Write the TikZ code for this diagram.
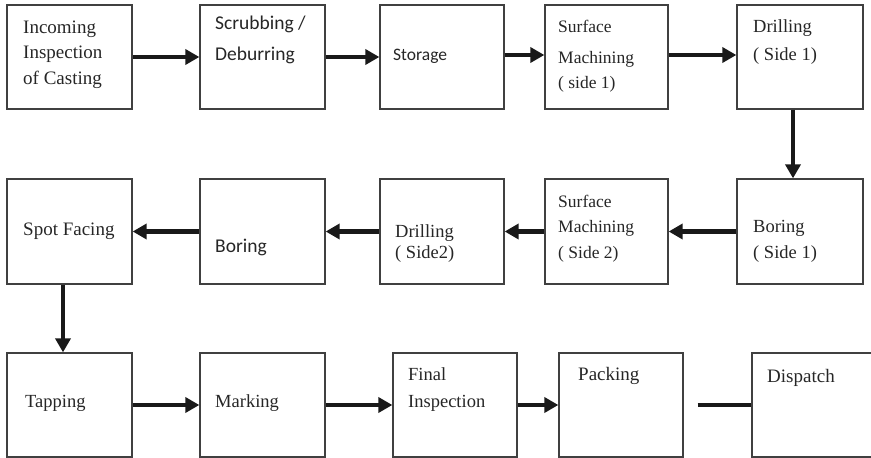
\documentclass[tikz,border=0pt]{standalone}
\usepackage{fontspec}
\setmainfont{Liberation Serif}
\newfontfamily\calibfont{Carlito}
\usetikzlibrary{arrows.meta}
\begin{document}
\begin{tikzpicture}[x=1pt,y=-1pt,
  box/.style={draw=black!75,line width=1.3pt,rectangle,inner sep=0pt,minimum height=104pt},
  txt/.style={anchor=base west,inner sep=0pt,text=black!85,font=\fontsize{18.5}{22}\selectfont},
  txs/.style={txt,font=\fontsize{17.5}{21}\selectfont},
  txc/.style={txt,font=\calibfont\fontsize{19.5}{23}\selectfont},
  flow/.style={line width=4.5pt,draw=black!90,-{Triangle[length=14pt,width=15pt]}},
  plain/.style={line width=4.5pt,draw=black!90}]
\useasboundingbox (0,0) rectangle (871,458);
% row 1
\node[box,minimum width=125pt] (b1) at (69.5,57) {};
\node[box,minimum width=125pt] (b2) at (262.5,57) {};
\node[box,minimum width=124pt] (b3) at (442,57) {};
\node[box,minimum width=123pt] (b4) at (606.5,57) {};
\node[box,minimum width=126pt] (b5) at (800,57) {};
% row 2
\node[box,minimum width=125pt,minimum height=105pt] (c1) at (69.5,231.5) {};
\node[box,minimum width=125pt,minimum height=105pt] (c2) at (262.5,231.5) {};
\node[box,minimum width=124pt,minimum height=105pt] (c3) at (442,231.5) {};
\node[box,minimum width=123pt,minimum height=105pt] (c4) at (606.5,231.5) {};
\node[box,minimum width=126pt,minimum height=105pt] (c5) at (800,231.5) {};
% row 3
\node[box,minimum width=125pt] (d1) at (69.5,405) {};
\node[box,minimum width=125pt] (d2) at (262.5,405) {};
\node[box,minimum width=124pt] (d3) at (455,405) {};
\node[box,minimum width=124pt] (d4) at (621,405) {};
\node[box,minimum width=125pt] (d5) at (814.5,405) {};
% texts row 1
\node[txt,font=\fontsize{19}{22}\selectfont] (t1a) at (23,33) {Incoming};
\node[txt,font=\fontsize{19}{22}\selectfont] (t1b) at (23,58) {Inspection};
\node[txt,font=\fontsize{19}{22}\selectfont] (t1c) at (23,84) {of Casting};
\node[txc] (t2a) at (215,29) {Scrubbing /};
\node[txc] (t2b) at (215,60) {Deburring};
\node[txc,font=\calibfont\fontsize{17.5}{21}\selectfont] (t3a) at (393,60) {Storage};
\node[txs] (t4a) at (558,32) {Surface};
\node[txs] (t4b) at (558,63) {Machining};
\node[txs] (t4c) at (558,88) {( side 1)};
\node[txt] (t5a) at (753,32) {Drilling};
\node[txt] (t5b) at (753,60) {( Side 1)};
% texts row 2
\node[txt,font=\fontsize{19}{22}\selectfont] (u1a) at (23,235) {Spot Facing};
\node[txc] (u2a) at (215,252) {Boring};
\node[txt] (u3a) at (395,237) {Drilling};
\node[txt] (u3b) at (395,258) {( Side2)};
\node[txs] (u4a) at (558,207) {Surface};
\node[txs] (u4b) at (558,232) {Machining};
\node[txs] (u4c) at (558,258) {( Side 2)};
\node[txt] (u5a) at (753,232) {Boring};
\node[txt] (u5b) at (753,258) {( Side 1)};
% texts row 3
\node[txt] (v1a) at (25,407) {Tapping};
\node[txt] (v2a) at (215,407) {Marking};
\node[txt] (v3a) at (408,380) {Final};
\node[txt] (v3b) at (408,407) {Inspection};
\node[txt,font=\fontsize{19}{22}\selectfont] (v4a) at (578,380) {Packing};
\node[txt,font=\fontsize{19}{22}\selectfont] (v5a) at (767,382) {Dispatch};
% connectors
\draw[flow] (b1) -- (b2);
\draw[flow] (b2) -- (b3);
\draw[flow] ([yshift=2pt]b3.east) -- ([yshift=2pt]b4.west);
\draw[flow] ([yshift=2pt]b4.east) -- ([yshift=2pt]b5.west);
\draw[flow] ([xshift=-7pt]b5.south) -- ([xshift=-7pt]c5.north);
\draw[flow] (c5) -- (c4);
\draw[flow] (c4) -- (c3);
\draw[flow] (c3) -- (c2);
\draw[flow] (c2) -- (c1);
\draw[flow] ([xshift=-6.5pt]c1.south) -- ([xshift=-6.5pt]d1.north);
\draw[flow] (d1) -- (d2);
\draw[flow] (d2) -- (d3);
\draw[flow] (d3) -- (d4);
\coordinate (pk) at ([xshift=14pt]d4.east);
\draw[plain] (pk) -- (d5.west);
\end{tikzpicture}
\end{document}
